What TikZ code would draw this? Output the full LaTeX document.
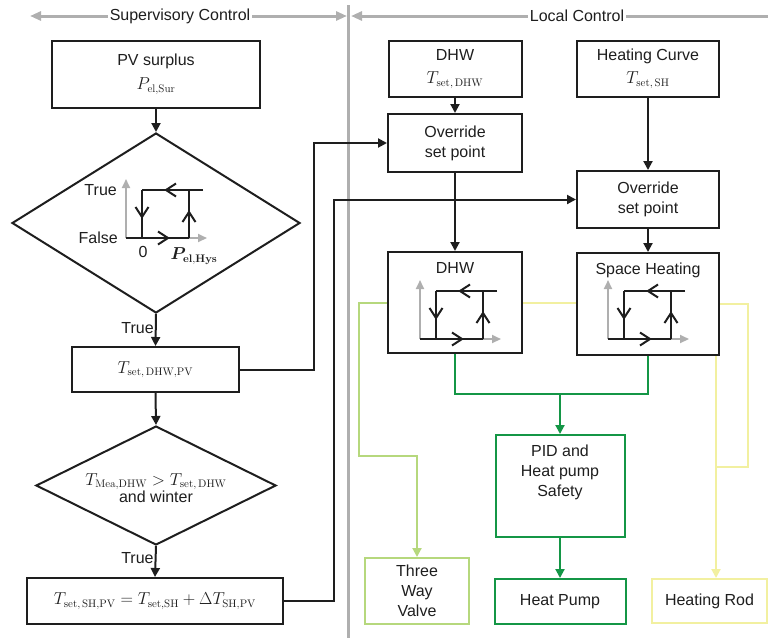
\documentclass[tikz,border=0pt]{standalone}
\usepackage[no-math]{fontspec}
\usepackage{bm}
\setmainfont{Liberation Sans}
\usetikzlibrary{arrows.meta,shapes.geometric}
\definecolor{dgreen}{RGB}{20,150,70}
\definecolor{lgreen}{RGB}{182,216,125}
\definecolor{lyellow}{RGB}{242,240,160}
\definecolor{hgray}{RGB}{175,175,175}
\definecolor{ink}{RGB}{30,30,30}
\newcommand\chevron[3]{%
  \draw[hline, line join=miter, shift={(#1,#2)}, rotate=#3] (-10,-6.5) -- (0,0) -- (-10,6.5);}
\newcommand\hystloop[2]{%
\begin{scope}[shift={(#1,#2)}]
  \draw[haxis,-{Triangle[length=9pt,width=8pt]}] (0,0) -- (0,-59);
  \draw[haxis,-{Triangle[length=9pt,width=8pt]}] (0,0) -- (81,0);
  \draw[hline] (0,0) -- (63,0);
  \draw[hline] (16,-48) -- (16,0);
  \draw[hline] (63,0) -- (63,-48);
  \draw[hline] (77,-48) -- (16,-48);
  \chevron{42}{0}{0}
  \chevron{16}{-21}{-90}
  \chevron{63}{-26}{90}
  \chevron{40}{-48}{180}
\end{scope}}
\begin{document}
\begin{tikzpicture}[x=1pt,y=-1pt,
  font=\fontsize{16}{20}\selectfont,
  box/.style={draw=ink, line width=2pt, inner sep=0pt, align=center, text=ink},
  gbox/.style={box, draw=dgreen},
  lgbox/.style={box, draw=lgreen},
  ybox/.style={box, draw=lyellow},
  dia/.style={draw=ink, line width=2pt, shape=diamond, inner sep=0pt, align=center, text=ink},
  arr/.style={draw=ink, line width=2pt, -{Triangle[length=9pt,width=9pt]}},
  gln/.style={draw=dgreen, line width=2pt},
  garr/.style={gln, -{Triangle[length=9pt,width=9pt]}},
  lgln/.style={draw=lgreen, line width=2pt},
  lgarr/.style={lgln, -{Triangle[length=9pt,width=9pt]}},
  yln/.style={draw=lyellow, line width=2pt},
  yarr/.style={yln, -{Triangle[length=9pt,width=9pt]}},
  hdr/.style={draw=hgray, line width=3pt},
  haxis/.style={draw=hgray, line width=2pt},
  hline/.style={draw=ink, line width=2pt},
  lbl/.style={text=ink, inner sep=1pt}
]
\useasboundingbox (0,0) rectangle (768,638);

% header
\coordinate (hl1) at (30,16);
\coordinate (hr1) at (347,16);
\coordinate (hl2) at (351,16);
\coordinate (hr2) at (772,16);
\coordinate (vt) at (348,5);
\coordinate (vb) at (348,638);
\draw[hdr] (vt) -- (vb);
\draw[hdr,{Triangle[length=11pt,width=9pt]}-{Triangle[length=11pt,width=9pt]}] (hl1) -- (hr1);
\draw[hdr,{Triangle[length=11pt,width=9pt]}-] (hl2) -- (hr2);
\node[fill=white, text=ink, inner sep=2pt] (sup) at (180,16) {Supervisory Control};
\node[fill=white, text=ink, inner sep=2pt] (loc) at (577,16) {Local Control};

% supervisory
\node[box, minimum width=208, minimum height=67, font=\fontsize{16}{24}\selectfont] (pv) at (156,74) {PV surplus\\$P_{\mathrm{el,Sur}}$};
\node[dia, minimum width=288, minimum height=180] (d1) at (156,223) {};
\hystloop{126}{238}
\node[lbl, anchor=east] (ltrue) at (118,190) {True};
\node[lbl, anchor=east] (lfalse) at (119,238) {False};
\node[lbl] (lzero) at (143,252) {0};
\node[lbl] (lphys) at (194,256) {$\bm{P}_{\mathbf{el,Hys}}$};

\node[box, minimum width=167, minimum height=45] (tdhw) at (155.5,369.5) {$T_{\mathrm{set,\,DHW,PV}}$};
\node[dia, minimum width=240, minimum height=119] (d2) at (156,485.5) {};
\node[lbl, align=center, font=\fontsize{16}{17}\selectfont] (d2t) at (156,488) {$T_{\mathrm{Mea,DHW}}>T_{\mathrm{set,\,DHW}}$\\and winter};
\node[box, minimum width=256, minimum height=46] (tsh) at (155,601) {$T_{\mathrm{set,\,SH,PV}}=T_{\mathrm{set,SH}}+\Delta T_{\mathrm{SH,PV}}$};

\draw[arr] (pv.south) -- (d1.north);
\draw[arr] (d1.south) -- node[lbl, left, pos=0.45] (t1) {True} (tdhw.north);
\draw[arr] (tdhw.south) -- (d2.north);
\draw[arr] (d2.south) -- node[lbl, left, pos=0.4] (t2) {True} (tsh.north);

% local
\node[box, minimum width=133, minimum height=56, font=\fontsize{16}{23}\selectfont] (dhw) at (455,69) {DHW\\$T_{\mathrm{set,\,DHW}}$};
\node[box, minimum width=142, minimum height=56, font=\fontsize{16}{23}\selectfont] (hc) at (648,69) {Heating Curve\\$T_{\mathrm{set,\,SH}}$};
\node[box, minimum width=134, minimum height=58] (ov1) at (455,143) {Override\\set point};
\node[box, minimum width=142, minimum height=57] (ov2) at (648,199.5) {Override\\set point};

\node[box, minimum width=134, minimum height=101] (dhwb) at (455,302.5) {};
\node[lbl] (dhwt) at (455,268) {DHW};
\hystloop{420}{339}
\node[box, minimum width=142, minimum height=102] (shb) at (648,304) {};
\node[lbl] (sht) at (648,270) {Space Heating};
\hystloop{608}{339}

\node[gbox, minimum width=129, minimum height=102] (pid) at (560,486) {};
\node[lbl, align=center] (pidt) at (560,472) {PID and\\Heat pump\\Safety};
\node[gbox, minimum width=131, minimum height=45] (hp) at (560,601.5) {Heat Pump};
\node[lgbox, minimum width=104, minimum height=66] (twv) at (417,591) {Three\\Way\\Valve};
\node[ybox, minimum width=115, minimum height=44] (hr) at (709.5,601) {Heating Rod};

\draw[arr] (tdhw.east) -- ++(74,0) |- (ov1.west);
\draw[arr] (tsh.east) -- ++(50,0) |- (ov2.west);
\draw[arr] (dhw.south) -- (ov1.north);
\draw[arr] (hc.south) -- (ov2.north);
\draw[arr] (ov1.south) -- (dhwb.north);
\draw[arr] (ov2.south) -- (shb.north);

% green
\coordinate (gm) at (560,394);
\draw[gln] (dhwb.south) |- (gm) -| (shb.south);
\draw[garr] (gm) -- (pid.north);
\draw[garr] (pid.south) -- (hp.north);

% light green
\coordinate (lg1) at (359,456);
\draw[lgarr] (dhwb.west) -| (lg1) -| (twv.north);

% yellow
\coordinate (ym) at (716,467);
\coordinate (yr) at (748,467);
\draw[yln] (dhwb.east) -- (dhwb.east -| shb.west);
\draw[yln] (shb.east) -| (yr) -- (ym);
\draw[yln] (shb.south -| ym) -- (ym);
\draw[yarr] (ym) -- (hr.north -| ym);
\end{tikzpicture}
\end{document}
